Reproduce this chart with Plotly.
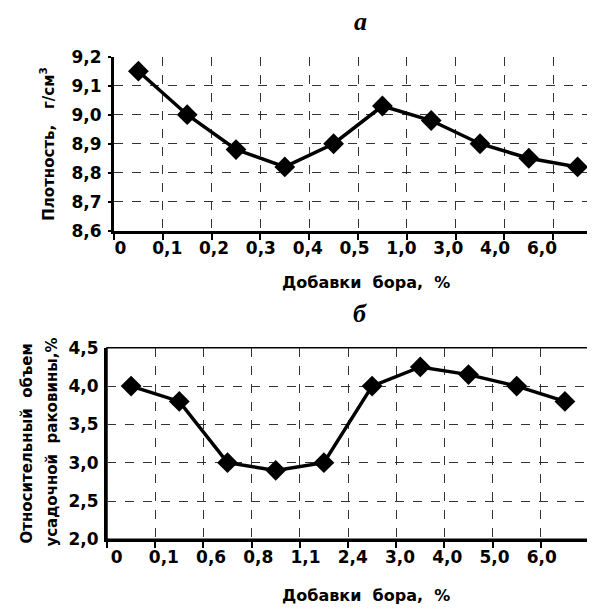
import plotly.graph_objects as go

# ---- data ----
x_labels_a = ["0", "0,1", "0,2", "0,3", "0,4", "0,5", "1,0", "3,0", "4,0", "6,0"]
density = [9.15, 9.0, 8.88, 8.82, 8.9, 9.03, 8.98, 8.9, 8.85, 8.82]

x_labels_b = ["0", "0,1", "0,6", "0,8", "1,1", "2,4", "3,0", "4,0", "5,0", "6,0"]
shrinkage = [4.0, 3.8, 3.0, 2.9, 3.0, 4.0, 4.25, 4.15, 4.0, 3.8]

y_title_a = "<b>Плотность,   г/см<sup>3</sup></b>"
y_title_b1 = "<b>Относительный  объем</b>"
y_title_b2 = "<b>усадочной  раковины,%</b>"
x_title = "<b>Добавки  бора,  %</b>"

# category centres and label positions
pos_a = [i + 0.5 for i in range(len(density))]
pos_b = [i + 0.5 for i in range(len(shrinkage))]
lab_a = [0.13 + 0.96 * i for i in range(len(x_labels_a))]
lab_b = [0.2 + 0.98 * i for i in range(len(x_labels_b))]

FONT = "DejaVu Sans, sans-serif"
W, H = 595, 609

fig = go.Figure()
line_style = dict(color="black", width=3.5)
marker_style = dict(symbol="diamond", size=16, color="black")

fig.add_trace(go.Scatter(x=pos_a, y=density, mode="lines+markers",
                         line=line_style, marker=marker_style,
                         xaxis="x", yaxis="y", showlegend=False))
fig.add_trace(go.Scatter(x=pos_b, y=shrinkage, mode="lines+markers",
                         line=line_style, marker=marker_style,
                         xaxis="x2", yaxis="y2", showlegend=False))

grid = dict(showgrid=True, gridcolor="#333333", gridwidth=1, griddash="dash")
TICKFONT = dict(family=FONT, size=17, color="black", weight="bold")
TITLEFONT = dict(family=FONT, size=15, color="black")


def xaxis(domain, anchor, labpos, labels):
    return dict(
        domain=domain, anchor=anchor, range=[0, 10],
        tickmode="array", tickvals=labpos, ticktext=labels,
        ticks="", showgrid=False, zeroline=False,
        showline=True, linecolor="black", linewidth=3,
        ticklabelstandoff=0,
        tickfont=TICKFONT,
        minor=dict(tickmode="array", tickvals=list(range(11)), ticks="outside",
                   ticklen=6, tickwidth=2, tickcolor="black", **grid),
    )


def yaxis(domain, anchor, rng, dtick, ticks, ticklen, labstand):
    return dict(
        domain=domain, anchor=anchor, range=rng, dtick=dtick, tick0=rng[0],
        tickformat=".1f", ticks=ticks, ticklen=ticklen, tickwidth=2, tickcolor="black",
        ticklabelstandoff=labstand,
        showline=True, linecolor="black", linewidth=3, zeroline=False,
        tickfont=TICKFONT,
        **grid,
    )


fig.update_layout(
    width=W, height=H,
    margin=dict(l=0, r=0, t=0, b=0),
    paper_bgcolor="white", plot_bgcolor="white",
    separators=", ",
    xaxis=xaxis([106 / W, 594 / W], "y", lab_a, x_labels_a),
    yaxis=yaxis([1 - 220 / H, 1 - 40 / H], "x", [8.6, 9.2], 0.1, "outside", 3, 3),
    xaxis2=xaxis([99 / W, 581 / W], "y2", lab_b, x_labels_b),
    yaxis2=yaxis([1 - 539 / H, 1 - 341 / H], "x2", [2.0, 4.5], 0.5, "", 0, 2),
)

# thin frame on lower chart
fig.add_shape(type="rect", xref="x2 domain", yref="y2 domain", x0=0, x1=1, y0=0, y1=1,
              line=dict(color="black", width=1.5), layer="below")

# panel letters
LETTERFONT = dict(family="Liberation Serif, Times New Roman, serif", size=26,
                  color="black", weight="bold", style="italic")
for txt, yy in [("а", 1 - 4 / H), ("б", 1 - 306 / H)]:
    fig.add_annotation(text=txt, xref="paper", yref="paper",
                       x=352 / W, y=yy, showarrow=False, xanchor="center", yanchor="middle",
                       font=LETTERFONT)

# y axis titles
for txt, xx, yy in [(y_title_a, 39, 131), (y_title_b1, 19, 440), (y_title_b2, 44, 439)]:
    fig.add_annotation(text=txt, xref="paper", yref="paper", textangle=-90,
                       x=xx / W, y=1 - yy / H, showarrow=False,
                       xanchor="center", yanchor="middle", font=TITLEFONT)

# x axis titles
for yy in [1 - 273 / H, 1 - 597 / H]:
    fig.add_annotation(text=x_title, xref="paper", yref="paper",
                       x=358 / W, y=yy, showarrow=False, xanchor="center", yanchor="middle",
                       font=dict(family=FONT, size=16, color="black"))

fig.write_html("out.html")
